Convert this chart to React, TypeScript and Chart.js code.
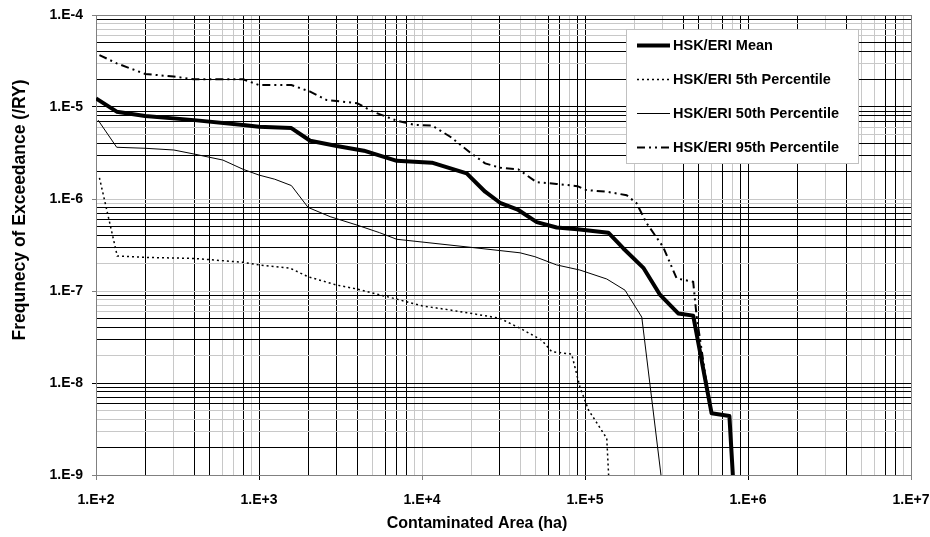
import { useEffect, useRef } from 'react';
import { Chart, registerables } from 'chart.js';

Chart.register(...registerables);

const FONT = '"Liberation Sans", Arial, Helvetica, sans-serif';

// ---- Axis ticks ----
const xTickValues = [1e2, 1e3, 1e4, 1e5, 1e6, 1e7];
const xTickLabels = ['1.E+2', '1.E+3', '1.E+4', '1.E+5', '1.E+6', '1.E+7'];
const yTickValues = [1e-9, 1e-8, 1e-7, 1e-6, 1e-5, 1e-4];
const yTickLabels = ['1.E-9', '1.E-8', '1.E-7', '1.E-6', '1.E-5', '1.E-4'];

// ---- Extra dark gridlines seen in the picture ----
const blackXGrid = [200, 400, 500, 800, 1000, 2000, 3000, 4000, 6000, 7000, 8000, 30000, 60000, 70000, 90000, 100000, 400000, 500000, 700000, 900000, 1e6, 2e6, 4e6, 7e6, 8e6];
const blackYGrid = [9e-5, 5e-5, 4e-5, 2e-5, 1e-5, 9e-6, 8e-6, 7e-6, 4e-6, 3e-6, 2e-6, 8e-7, 7e-7, 6e-7, 5e-7, 4e-7, 3e-7, 9e-8, 5e-8, 4e-8, 3e-8, 1e-8, 9e-9, 8e-9, 7e-9, 6e-9, 2e-9];

// ---- Series ----
const seriesLabels = ['HSK/ERI Mean', 'HSK/ERI 5th Percentile', 'HSK/ERI 50th Percentile', 'HSK/ERI 95th Percentile'];

const meanArea = [100, 134, 200, 400, 800, 1000, 1580, 2060, 3000, 4400, 7000, 11500, 18800, 24400, 30100, 39000, 50600, 67000, 90000, 139000, 172000, 229000, 289000, 373000, 461000, 598000, 769000, 810000];
const meanFreq = [1.24e-5, 8.9e-6, 7.97e-6, 7.2e-6, 6.37e-6, 6.1e-6, 5.9e-6, 4.3e-6, 3.77e-6, 3.35e-6, 2.6e-6, 2.48e-6, 1.9e-6, 1.2e-6, 9.1e-7, 7.6e-7, 5.6e-7, 4.9e-7, 4.7e-7, 4.3e-7, 2.9e-7, 1.77e-7, 9.06e-8, 5.7e-8, 5.4e-8, 4.68e-9, 4.37e-9, 9e-10];

const p5Area = [105, 135, 200, 400, 800, 1000, 1550, 2000, 3000, 4000, 5500, 7300, 10000, 15000, 22700, 30000, 40000, 54200, 62500, 82800, 93000, 105000, 136000, 140000];
const p5Freq = [1.7e-6, 2.4e-7, 2.32e-7, 2.26e-7, 2.05e-7, 1.92e-7, 1.77e-7, 1.43e-7, 1.16e-7, 1.05e-7, 9.1e-8, 8.0e-8, 6.9e-8, 6.2e-8, 5.5e-8, 5.05e-8, 3.93e-8, 2.93e-8, 2.19e-8, 2.06e-8, 9.1e-9, 5.1e-9, 2.5e-9, 9e-10];

const p50Area = [103, 134, 200, 300, 400, 600, 800, 1000, 1250, 1580, 2000, 2730, 4000, 5500, 7000, 20000, 40000, 49300, 67000, 93000, 136000, 176000, 223000, 297000];
const p50Freq = [7.2e-6, 3.65e-6, 3.56e-6, 3.41e-6, 3.08e-6, 2.65e-6, 2.1e-6, 1.82e-6, 1.64e-6, 1.4e-6, 8.1e-7, 6.43e-7, 5.2e-7, 4.3e-7, 3.65e-7, 2.98e-7, 2.6e-7, 2.36e-7, 1.92e-7, 1.69e-7, 1.35e-7, 1.02e-7, 5.2e-8, 8e-10];

const p95Area = [105, 134, 200, 300, 400, 800, 1000, 1580, 2060, 2600, 4000, 5000, 7000, 9000, 11500, 14900, 20000, 24400, 30000, 39000, 50600, 67000, 90000, 102000, 136000, 180000, 207000, 239000, 302000, 365000, 461000, 484000, 590000];
const p95Freq = [3.67e-5, 2.98e-5, 2.29e-5, 2.14e-5, 2.0e-5, 2.0e-5, 1.73e-5, 1.73e-5, 1.47e-5, 1.19e-5, 1.1e-5, 8.9e-6, 7.1e-6, 6.4e-6, 6.3e-6, 4.75e-6, 3.14e-6, 2.44e-6, 2.19e-6, 2.1e-6, 1.52e-6, 1.46e-6, 1.38e-6, 1.25e-6, 1.2e-6, 1.1e-6, 9e-7, 5.45e-7, 3.0e-7, 1.37e-7, 1.26e-7, 5.3e-8, 5e-9];

const GRAY = '#c8c8c8';
const BORDER = '#808080';

const close = (a: number, b: number) => Math.abs(Math.log10(a) - Math.log10(b)) < 1e-6;
const inList = (v: number, list: number[]) => list.some((w) => close(v, w));

function logTickValues(minExp: number, maxExp: number) {
  const out: number[] = [];
  for (let e = minExp; e < maxExp; e++) {
    for (let d = 1; d <= 9; d++) out.push(d * Math.pow(10, e));
  }
  out.push(Math.pow(10, maxExp));
  return out;
}

function labelFor(v: number, values: number[], labels: string[]) {
  const i = values.findIndex((w) => close(v, w));
  return i >= 0 ? labels[i] : '';
}

const toPts = (xs: number[], ys: number[]) => xs.map((x, i) => ({ x, y: ys[i] }));

const legendPlugin = {
  id: 'boxLegend',
  afterDraw(chart: any) {
    const { ctx, chartArea: ca } = chart;
    const x0 = ca.right - 285;
    const y0 = ca.top + 14;
    const w = 232;
    const h = 134;
    ctx.save();
    ctx.fillStyle = '#ffffff';
    ctx.fillRect(x0, y0, w, h);
    ctx.strokeStyle = '#c0c0c0';
    ctx.lineWidth = 1;
    ctx.strokeRect(x0 + 0.5, y0 + 0.5, w, h);
    ctx.font = `bold 14.5px ${FONT}`;
    ctx.textAlign = 'left';
    ctx.textBaseline = 'middle';
    chart.data.datasets.forEach((ds: any, i: number) => {
      const yy = Math.round(y0 + 16 + i * 34);
      ctx.save();
      ctx.strokeStyle = ds.borderColor;
      ctx.lineWidth = ds.borderWidth;
      ctx.setLineDash(ds.borderDash || []);
      ctx.beginPath();
      ctx.moveTo(x0 + 11, yy + 0.5);
      ctx.lineTo(x0 + 44, yy + 0.5);
      ctx.stroke();
      ctx.restore();
      ctx.fillStyle = '#000';
      ctx.fillText(ds.label, x0 + 47, yy + 1);
    });
    ctx.restore();
  },
};

const titlePlugin = {
  id: 'axisTitles',
  afterDraw(chart: any) {
    const { ctx, chartArea: ca } = chart;
    ctx.save();
    ctx.fillStyle = '#000';
    ctx.font = `bold 16px ${FONT}`;
    ctx.textAlign = 'center';
    ctx.textBaseline = 'middle';
    ctx.fillText('Contaminated Area (ha)', ca.left + 381, ca.bottom + 49);
    ctx.font = `bold 17.5px ${FONT}`;
    ctx.translate(ca.left - 76, ca.top + 195);
    ctx.rotate(-Math.PI / 2);
    ctx.fillText('Frequnecy of Exceedance (/RY)', 0, 0);
    ctx.restore();
  },
};

export default function App() {
  const ref = useRef<HTMLCanvasElement | null>(null);

  useEffect(() => {
    if (!ref.current) return;
    const tickFont = { family: FONT, size: 14, weight: 'bold' as const };
    const chart = new Chart(ref.current, {
      type: 'scatter',
      data: {
        datasets: [
          {
            label: seriesLabels[0],
            data: toPts(meanArea, meanFreq),
            borderColor: '#000000',
            borderWidth: 4,
            borderJoinStyle: 'round',
            showLine: true,
            pointRadius: 0,
          },
          {
            label: seriesLabels[1],
            data: toPts(p5Area, p5Freq),
            borderColor: '#000000',
            borderWidth: 1.5,
            borderDash: [2, 3],
            showLine: true,
            pointRadius: 0,
          },
          {
            label: seriesLabels[2],
            data: toPts(p50Area, p50Freq),
            borderColor: '#000000',
            borderWidth: 1,
            showLine: true,
            pointRadius: 0,
          },
          {
            label: seriesLabels[3],
            data: toPts(p95Area, p95Freq),
            borderColor: '#000000',
            borderWidth: 2,
            borderDash: [8, 4, 2, 4, 2, 4],
            showLine: true,
            pointRadius: 0,
          },
        ] as any,
      },
      options: {
        animation: false,
        responsive: false,
        devicePixelRatio: 1,
        layout: { padding: { top: 15, right: 19, bottom: 0, left: 0 } },
        plugins: {
          legend: { display: false },
          tooltip: { enabled: false },
        },
        scales: {
          x: {
            type: 'logarithmic',
            min: 1e2,
            max: 1e7,
            afterBuildTicks: (scale: any) => {
              scale.ticks = logTickValues(2, 7).map((v) => ({ value: v }));
            },
            afterFit: (scale: any) => {
              scale.height = 62;
              scale.paddingRight = 0;
              scale.paddingLeft = 0;
            },
            ticks: {
              autoSkip: false,
              maxRotation: 0,
              minRotation: 0,
              padding: 12,
              color: '#000',
              font: tickFont,
              callback: (v: any) => labelFor(Number(v), xTickValues, xTickLabels),
            },
            grid: {
              lineWidth: 1,
              tickLength: 5,
              color: (c: any) => {
                const v = c.tick?.value;
                if (v == null) return GRAY;
                if (close(v, 1e7)) return BORDER;
                return inList(v, blackXGrid) ? '#000000' : GRAY;
              },
              tickColor: (c: any) => {
                const v = c.tick?.value;
                if (v == null || !inList(v, xTickValues)) return 'rgba(0,0,0,0)';
                return inList(v, blackXGrid) ? '#000000' : BORDER;
              },
            },
            border: { color: BORDER, width: 1 },
          },
          y: {
            type: 'logarithmic',
            min: 1e-9,
            max: 1e-4,
            afterBuildTicks: (scale: any) => {
              scale.ticks = logTickValues(-9, -4).map((v) => ({ value: v }));
            },
            afterFit: (scale: any) => {
              scale.width = 96;
              scale.paddingTop = 0;
              scale.paddingBottom = 0;
            },
            ticks: {
              autoSkip: false,
              padding: 9,
              color: '#000',
              font: tickFont,
              callback: (v: any) => labelFor(Number(v), yTickValues, yTickLabels),
            },
            grid: {
              lineWidth: 1,
              tickLength: 4,
              color: (c: any) => {
                const v = c.tick?.value;
                if (v == null) return GRAY;
                if (close(v, 1e-4)) return BORDER;
                return inList(v, blackYGrid) ? '#000000' : GRAY;
              },
              tickColor: (c: any) => {
                const v = c.tick?.value;
                if (v == null || !inList(v, yTickValues)) return 'rgba(0,0,0,0)';
                return inList(v, blackYGrid) ? '#000000' : BORDER;
              },
            },
            border: { color: BORDER, width: 1 },
          },
        },
      } as any,
      plugins: [legendPlugin, titlePlugin],
    });
    return () => chart.destroy();
  }, []);

  return (
    <div style={{ position: 'fixed', left: 0, top: 0, width: 930, height: 537, background: '#ffffff' }}>
      <canvas ref={ref} width={930} height={537} style={{ display: 'block' }} />
    </div>
  );
}
